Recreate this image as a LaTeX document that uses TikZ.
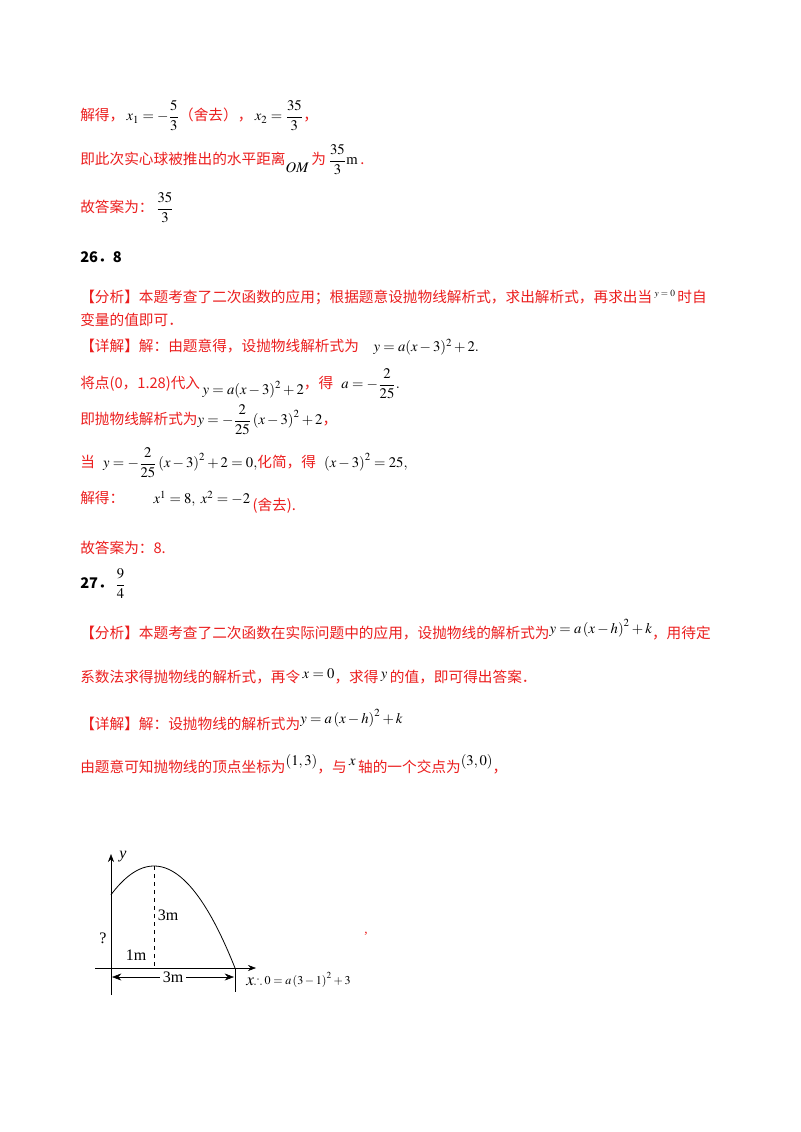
\documentclass[tikz,border=0pt]{standalone}
\usepackage{amsmath,amssymb}
\usepackage{mathptmx}
\usepackage{fontspec}
\setmainfont{Liberation Serif}
\newfontfamily\cjk{Noto Sans CJK SC}
\usetikzlibrary{arrows.meta}
\definecolor{rd}{RGB}{235,30,30}
\newcommand{\R}[1]{{\cjk\color{rd}#1}}
\begin{document}
\begin{tikzpicture}[x=0.75pt,y=-0.75pt,
  ln/.style={anchor=west,inner sep=0pt,font=\fontsize{11pt}{12pt}\selectfont},
  hd/.style={anchor=west,inner sep=0pt,font=\fontsize{11pt}{12pt}\selectfont\bfseries}]
\useasboundingbox (0,0) rectangle (800,1132);
\node[ln] (l1) at (80,116) {\R{解得，}\,$x_1=-\dfrac{5}{3}$\R{（舍去），}\,$x_2=\dfrac{35}{3}$\R{，}};
\node[ln] (l2) at (80,160) {\R{即此次实心球被推出的水平距离}\raisebox{-6pt}{$OM$}\,\R{为}\,$\dfrac{35}{3}$m\,\R{.}};
\node[ln] (l3) at (80,208) {\R{故答案为：}\,$\dfrac{35}{3}$};
\node[hd] (l4) at (80,257) {{\cjk 26．8}};
\node[ln] (l5) at (80,297) {\R{【分析】本题考查了二次函数的应用；根据题意设抛物线解析式，求出解析式，再求出当}\,\raisebox{4pt}{\scriptsize$y=0$}\,\R{时自}};
\node[ln] (l6) at (80,320) {\R{变量的值即可．}};
\node[ln] (l7) at (80,347) {\R{【详解】解：由题意得，设抛物线解析式为}\quad$y=a(x-3)^2+2.$};
\node[ln] (l8) at (80,384) {\R{将点(0，1.28)代入}\,\raisebox{-4pt}{$y=a(x-3)^2+2$}\R{，得}\;\;$a=-\dfrac{2}{25}.$};
\node[ln] (l9) at (80,420) {\R{即抛物线解析式为}$y=-\dfrac{2}{25}\left(x-3\right)^2+2$\R{，}};
\node[ln] (l10) at (80,463) {\R{当}\;\;$y=-\dfrac{2}{25}\left(x-3\right)^2+2=0,$\R{化简，得}\;\;$\left(x-3\right)^2=25,$};
\node[ln] (l11) at (80,502) {\R{解得：}\qquad$x^1=8,\ x^2=-2$\,\raisebox{-5pt}{\R{(舍去).}}};
\node[ln] (l12) at (80,548) {\R{故答案为：8.}};
\node[hd] (l13) at (80,584) {{\cjk 27．}\,$\dfrac{9}{4}$};
\node[ln] (l14) at (80,630) {\R{【分析】本题考查了二次函数在实际问题中的应用，设抛物线的解析式为}\raisebox{4pt}{$y=a\left(x-h\right)^2+k$}\R{，用待定}};
\node[ln] (l15) at (80,676) {\R{系数法求得抛物线的解析式，再令}\,\raisebox{3pt}{$x=0$}\R{，求得}\,\raisebox{3pt}{$y$}\,\R{的值，即可得出答案．}};
\node[ln] (l16) at (80,720) {\R{【详解】解：设抛物线的解析式为}\raisebox{4pt}{$y=a\left(x-h\right)^2+k$}};
\node[ln] (l17) at (80,764) {\R{由题意可知抛物线的顶点坐标为}\raisebox{5pt}{$\left(1,3\right)$}\R{，与}\,\raisebox{5pt}{$x$}\,\R{轴的一个交点为}\raisebox{5pt}{$\left(3,0\right)$}\R{，}};
% figure
\coordinate (yt) at (111,854);
\coordinate (yb) at (111,995);
\coordinate (xl) at (95,968);
\coordinate (xr) at (256,968);
\coordinate (v) at (154,866);
\coordinate (vb) at (154,968);
\coordinate (e) at (235,968);
\coordinate (eb) at (235,992);
\draw[-{Stealth[length=6pt]}] (yb) -- (yt);
\draw[-{Stealth[length=6pt]}] (xl) -- (xr);
\draw[semithick,domain=111:235,samples=60] plot (\x,{866+0.01555*(\x-154)^2});
\draw[dashed] (v) -- (vb);
\draw (e) -- (eb);
\node[inner sep=2pt,fill=white,font=\fontsize{12pt}{12pt}\selectfont] (d3) at (173,977) {3m};
\draw[-{Stealth[length=7pt]}] (d3.west) -- (112,977);
\draw[-{Stealth[length=7pt]}] (d3.east) -- (234,977);
\node[inner sep=0pt,font=\fontsize{12pt}{12pt}\selectfont] (h3) at (168,915) {3m};
\node[inner sep=0pt,font=\fontsize{12pt}{12pt}\selectfont] (h1) at (136,955) {1m};
\node[inner sep=0pt,font=\fontsize{12pt}{12pt}\selectfont] (q) at (103,938) {?};
\node[inner sep=0pt,font=\fontsize{12pt}{12pt}\selectfont\itshape] (yl) at (123,857) {y};
\node[anchor=west,inner sep=0pt,font=\fontsize{13pt}{12pt}\selectfont] (xlab) at (246,980) {$x$\raisebox{1pt}{\fontsize{9pt}{10pt}\selectfont$\therefore 0=a\left(3-1\right)^2+3$}};
\node[inner sep=0pt,text=rd] (cm) at (366,934) {,};
\end{tikzpicture}
\end{document}
